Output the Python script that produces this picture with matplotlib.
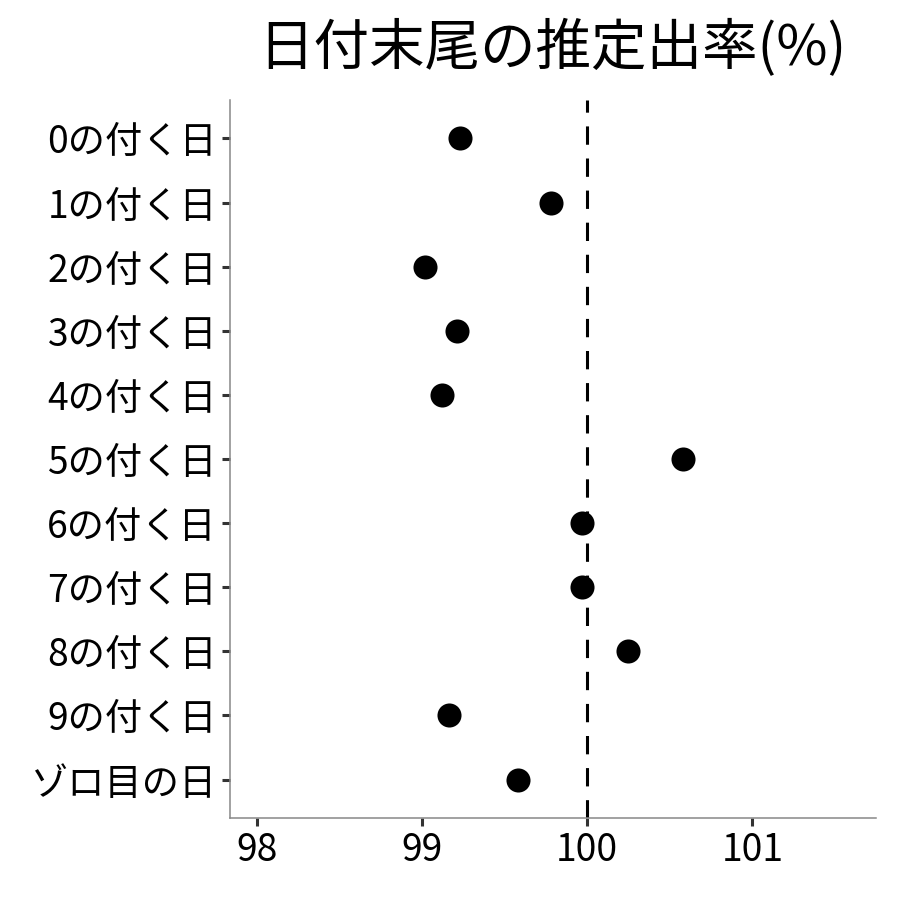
import matplotlib
matplotlib.use('Agg')
import matplotlib.pyplot as plt

plt.rcParams['font.family'] = ['Noto Sans CJK JP', 'DejaVu Sans']

labels = ['0の付く日', '1の付く日', '2の付く日', '3の付く日', '4の付く日',
          '5の付く日', '6の付く日', '7の付く日', '8の付く日', '9の付く日', 'ゾロ目の日']
rates = [99.23, 99.78, 99.02, 99.21, 99.12, 100.58, 99.97, 99.97, 100.25, 99.16, 99.58]
xticks = [98, 99, 100, 101]

fig = plt.figure(figsize=(9, 9), dpi=100)
ax = fig.add_axes([0.2556, 0.0911, 0.7178, 0.7978])

y = list(range(len(labels)))
ax.axvline(100, color='black', lw=2.2, dashes=(6, 4.5), zorder=1)
ax.scatter(rates, y, s=300, color='black', zorder=2, linewidths=0)

ax.set_yticks(y)
ax.set_yticklabels(labels)
ax.set_ylim(len(labels) - 0.4, -0.6)
ax.set_xticks(xticks)
ax.set_xticklabels([str(v) for v in xticks])
ax.set_xlim(97.836, 101.75)

for side in ['top', 'right']:
	ax.spines[side].set_visible(False)
for side in ['left', 'bottom']:
	ax.spines[side].set_color('#888888')
	ax.spines[side].set_linewidth(1.1)
ax.tick_params(axis='both', length=5.8, width=2.2, color='#333333',
               labelsize=26.8, labelcolor='black', pad=3.5)

fig.suptitle('日付末尾の推定出率(%)', fontsize=40, x=0.614, y=0.978, va='top')

fig.savefig('out.png', dpi=100)
